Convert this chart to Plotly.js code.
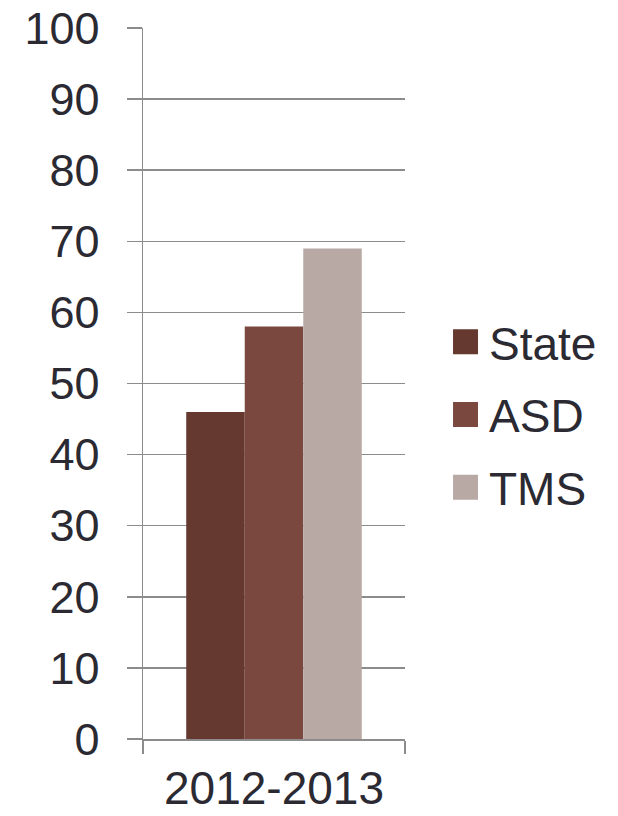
<!DOCTYPE html>
<html><head><meta charset="utf-8">
<script src="https://cdn.plot.ly/plotly-3.0.1.min.js"></script>
<style>html,body{margin:0;padding:0;background:#fff}</style>
</head><body>
<div id="chart" style="width:618px;height:816px"></div>
<script>
const categories = ["2012-2013"];
const seriesNames = ["State", "ASD", "TMS"];
const stateValues = [46];
const asdValues = [58];
const tmsValues = [69];
const yTicks = [0,10,20,30,40,50,60,70,80,90,100];
const colors = ["#653830", "#7a483e", "#b8a9a5"];
const allValues = [stateValues, asdValues, tmsValues];

const traces = seriesNames.map((n,i)=>({
  type:"bar", name:n, x:categories, y:allValues[i],
  marker:{color:colors[i]}, legendgroup:"g"+i
}));

const fam = "Liberation Sans, Arial, sans-serif";
const txtColor = "#2b2a33";
const layout = {
  width:618, height:816,
  margin:{l:143, r:213, t:28, b:77},
  paper_bgcolor:"#fff", plot_bgcolor:"#fff",
  barmode:"group", bargap:0.33, bargroupgap:0,
  showlegend:true,
  legend:{x:1.168, xanchor:"left", y:0.456, yanchor:"middle",
    font:{family:fam, size:46, color:txtColor},
    tracegroupgap:10, traceorder:"grouped", itemwidth:30},
  xaxis:{type:"category", showgrid:false, showline:true, linecolor:"#8c8c8c", linewidth:1.5,
    ticks:"outside", tickson:"boundaries", ticklen:13, tickcolor:"#8c8c8c", tickwidth:1.5,
    tickfont:{family:fam, size:46, color:txtColor}, ticklabelstandoff:8},
  yaxis:{range:[0,100], tickvals:yTicks, showgrid:true, gridcolor:"#8c8c8c", gridwidth:1.5,
    showline:true, linecolor:"#8c8c8c", linewidth:1.5, zeroline:false,
    ticks:"outside", ticklen:15, tickcolor:"#8c8c8c", tickwidth:1.5,
    tickfont:{family:fam, size:45, color:txtColor}, ticklabelstandoff:18}
};
Plotly.newPlot("chart", traces, layout, {staticPlot:true}).then(()=>{
  document.querySelectorAll(".legendpoints path").forEach(p=>{
    const t = p.getAttribute("transform") || "";
    p.setAttribute("transform", t + " translate(-3.5,0) scale(2.08)");
  });
});
</script>
</body></html>
